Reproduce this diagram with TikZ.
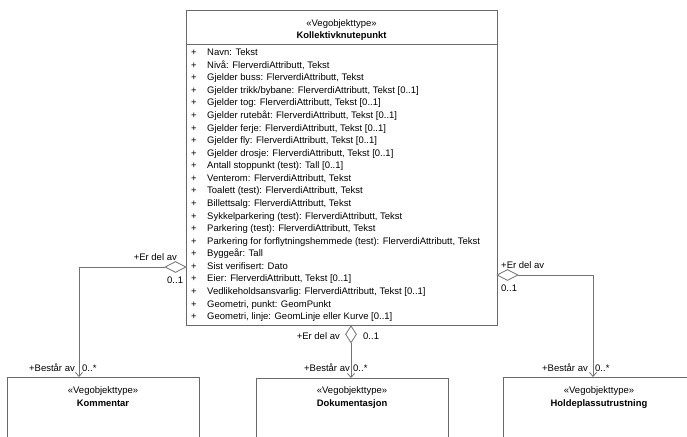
\documentclass[tikz,border=0pt]{standalone}
\usepackage{fontspec}
\setmainfont{Liberation Sans}
\usetikzlibrary{arrows.meta,shapes.geometric}
\definecolor{boxclr}{RGB}{105,105,105}
\definecolor{lineclr}{RGB}{115,115,115}
\begin{document}
\begin{tikzpicture}[x=1pt,y=-1pt,
  every node/.style={font=\fontsize{9.5}{11}\selectfont, inner sep=0pt, text=black},
  classbox/.style={draw=boxclr, line width=0.8pt, fill=white, anchor=north west, minimum width=192pt, minimum height=80pt},
  agg/.style={diamond, draw=lineclr, line width=0.8pt, fill=white, inner sep=0pt},
  conn/.style={draw=lineclr, line width=0.8pt, -{Straight Barb[length=4pt,width=7pt]}},
  bold/.style={font=\fontsize{9.4}{11}\selectfont\bfseries}]
\clip (0,0) rectangle (687,436);
\fill[white] (0,0) rectangle (687,436);

% main class
\node[classbox, minimum width=311pt, minimum height=315pt] (main) at (186,10) {};
\draw[boxclr, line width=0.8pt] ([yshift=-34pt]main.north west) -- ([yshift=-34pt]main.north east);
\node[anchor=base] (mst) at (341.5,26.4) {«Vegobjekttype»};
\node[anchor=base, bold] (mname) at (341.5,38.2) {Kollektivknutepunkt};
\foreach \t [count=\i] in {
  {Navn: Tekst},
  {Nivå: FlerverdiAttributt, Tekst},
  {Gjelder buss: FlerverdiAttributt, Tekst},
  {Gjelder trikk/bybane: FlerverdiAttributt, Tekst [0..1]},
  {Gjelder tog: FlerverdiAttributt, Tekst [0..1]},
  {Gjelder rutebåt: FlerverdiAttributt, Tekst [0..1]},
  {Gjelder ferje: FlerverdiAttributt, Tekst [0..1]},
  {Gjelder fly: FlerverdiAttributt, Tekst [0..1]},
  {Gjelder drosje: FlerverdiAttributt, Tekst [0..1]},
  {Antall stoppunkt (test): Tall [0..1]},
  {Venterom: FlerverdiAttributt, Tekst},
  {Toalett (test): FlerverdiAttributt, Tekst},
  {Billettsalg: FlerverdiAttributt, Tekst},
  {Sykkelparkering (test): FlerverdiAttributt, Tekst},
  {Parkering (test): FlerverdiAttributt, Tekst},
  {Parkering for forflytningshemmede (test): FlerverdiAttributt, Tekst},
  {Byggeår: Tall},
  {Sist verifisert: Dato},
  {Eier: FlerverdiAttributt, Tekst [0..1]},
  {Vedlikeholdsansvarlig: FlerverdiAttributt, Tekst [0..1]},
  {Geometri, punkt: GeomPunkt},
  {Geometri, linje: GeomLinje eller Kurve [0..1]}} {
  \node[anchor=base west] (p\i) at (191,{55.6+12.57*(\i-1)}) {+};
  \node[anchor=base west] (r\i) at (207,{55.6+12.57*(\i-1)}) {\t};
}

% other classes
\node[classbox] (kom) at (7,377) {};
\node[anchor=base] (kst) at (103,393.4) {«Vegobjekttype»};
\node[anchor=base, bold] (kname) at (103,406.4) {Kommentar};

\node[classbox] (dok) at (256,378) {};
\node[anchor=base] (dst) at (352,393.4) {«Vegobjekttype»};
\node[anchor=base, bold] (dname) at (352,406.4) {Dokumentasjon};

\node[classbox] (hol) at (503,377) {};
\node[anchor=base] (hst) at (599,393.4) {«Vegobjekttype»};
\node[anchor=base, bold] (hname) at (599,406.4) {Holdeplassutrustning};

% aggregation diamonds
\node[agg, minimum width=21pt, minimum height=11pt, anchor=east] (d1) at (186.4,267) {};
\node[agg, minimum width=21pt, minimum height=11pt, anchor=west] (d2) at (496.6,275) {};
\node[agg, minimum width=11pt, minimum height=17pt, anchor=north] (d3) at (351,325.4) {};

\coordinate (k1) at (79,377);
\coordinate (k3) at (351,378);
\coordinate (k2) at (593,377);
\draw[conn] (d1.west) -| (k1);
\draw[conn] (d3.south) -- (k3);
\draw[conn] (d2.east) -| (k2);

% role labels
\node[anchor=base east] (l1a) at (177,260.5) {+Er del av};
\node[anchor=base west] (l1b) at (167,283.5) {0..1};
\node[anchor=base east] (l1c) at (75,371.5) {+Består av};
\node[anchor=base west] (l1d) at (82,371.5) {0..*};

\node[anchor=base east] (l3a) at (340,339.5) {+Er del av};
\node[anchor=base west] (l3b) at (363,339.5) {0..1};
\node[anchor=base east] (l3c) at (350,371.5) {+Består av};
\node[anchor=base west] (l3d) at (353,371.5) {0..*};

\node[anchor=base west] (l2a) at (501,268.5) {+Er del av};
\node[anchor=base west] (l2b) at (501,291.5) {0..1};
\node[anchor=base east] (l2c) at (588,371.5) {+Består av};
\node[anchor=base west] (l2d) at (595,371.5) {0..*};
\end{tikzpicture}
\end{document}
